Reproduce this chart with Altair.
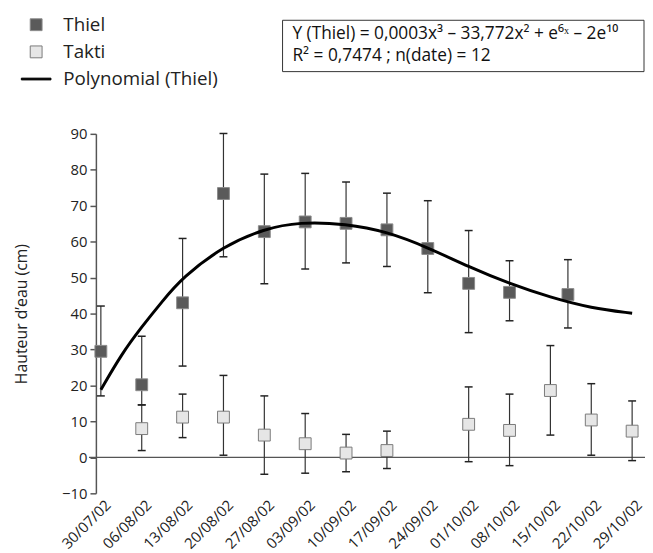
import json
import altair as alt
import pandas as pd

FONT = "Open Sans"

# ---- data ----
tick_labels = ["30/07/02", "06/08/02", "13/08/02", "20/08/02", "27/08/02", "03/09/02",
               "10/09/02", "17/09/02", "24/09/02", "01/10/02", "08/10/02", "15/10/02",
               "22/10/02", "29/10/02"]

thiel_dates = ["30/07/02", "06/08/02", "13/08/02", "20/08/02", "27/08/02", "03/09/02",
               "10/09/02", "17/09/02", "24/09/02", "01/10/02", "08/10/02", "18/10/02"]
thiel_mean = [29.5, 20.2, 43.0, 73.4, 62.8, 65.5, 65.1, 63.3, 58.1, 48.4, 45.9, 45.3]
thiel_hi = [42.1, 33.7, 60.9, 90.1, 78.8, 79.0, 76.6, 73.5, 71.4, 63.1, 54.7, 55.0]
thiel_lo = [17.1, 14.6, 25.4, 55.8, 48.3, 52.4, 54.1, 53.1, 45.8, 34.7, 38.0, 36.0]

takti_dates = ["06/08/02", "13/08/02", "20/08/02", "27/08/02", "03/09/02", "10/09/02",
               "17/09/02", "01/10/02", "08/10/02", "15/10/02", "22/10/02", "29/10/02"]
takti_mean = [8.0, 11.2, 11.2, 6.2, 3.8, 1.2, 1.9, 9.2, 7.5, 18.6, 10.4, 7.3]
takti_hi = [14.6, 17.6, 22.8, 17.1, 12.2, 6.4, 7.3, 19.6, 17.6, 31.1, 20.5, 15.7]
takti_lo = [1.9, 5.5, 0.6, -4.7, -4.4, -4.0, -3.1, -1.2, -2.3, 6.2, 0.6, -0.9]

# polynomial trend line (Thiel) (days after 30/07/02)
curve_days = [0, 3.6, 7, 10.4, 14, 21, 28, 34, 42, 49, 56, 63, 70, 77, 84, 91]
curve_vals = [18.8, 28.9, 36.3, 43.2, 50.1, 58.8, 63.6, 65.5, 65.0, 62.8, 58.4, 53.0,
              48.3, 44.5, 41.5, 40.1]

series_names = ["Thiel", "Takti", "Polynomial (Thiel)"]
eq_lines = ["Y (Thiel) = 0,0003x³ – 33,772x² + e⁶ˣ – 2e¹⁰",
            "R² = 0,7474 ; n(date) = 12"]
y_title = "Hauteur d’eau (cm)"

# ---- build tables ----
origin = pd.Timestamp("2002-07-30")


def to_days(lst):
    return [(pd.to_datetime(d, format="%d/%m/%y") - origin).days for d in lst]


tick_days = to_days(tick_labels)

df = pd.concat([
    pd.DataFrame({"day": to_days(thiel_dates), "mean": thiel_mean, "lo": thiel_lo,
                  "hi": thiel_hi, "series": "Thiel"}),
    pd.DataFrame({"day": to_days(takti_dates), "mean": takti_mean, "lo": takti_lo,
                  "hi": takti_hi, "series": "Takti"}),
], ignore_index=True)
curve_df = pd.DataFrame({"day": curve_days, "val": curve_vals})

xscale = alt.Scale(domain=[-0.85, 91.85], nice=False, zero=False)
yscale = alt.Scale(domain=[-10, 90], nice=False, zero=False)

label_expr = json.dumps(tick_labels) + "[round(datum.value / 7)]"
xaxis = alt.Axis(values=tick_days, labelExpr=label_expr, labelAngle=-45, domain=False,
                 ticks=False, grid=False, labelFontSize=15, labelFont=FONT,
                 labelColor="#222", labelPadding=4, labelOffset=2, title=None,
                 labelOverlap=False)
yaxis = alt.Axis(values=list(range(-10, 100, 10)), tickSize=6, tickColor="#555",
                 tickWidth=1.5, domainColor="#555", domainWidth=1.5, grid=False,
                 labelFontSize=15, labelFont=FONT, labelColor="#222", labelPadding=3,
                 title=y_title, titleFontSize=16, titleFontWeight="normal",
                 titleFont=FONT, titleColor="#222", titlePadding=33)


def X(field):
    return alt.X(field, type="quantitative", scale=xscale, axis=xaxis)


def Y(field):
    return alt.Y(field, type="quantitative", scale=yscale, axis=yaxis)


zero = alt.Chart(pd.DataFrame({"z": [0]})).mark_rule(color="#555", strokeWidth=1.5).encode(
    y=Y("z"), x=alt.value(-7), x2=alt.value(556))

bars = alt.Chart(df).mark_rule(color="#333", strokeWidth=1.2).encode(
    x=X("day"), y=Y("lo"), y2="hi")
cap_lo = alt.Chart(df).mark_tick(orient="horizontal", size=8, thickness=1.5,
                                 color="#222", opacity=1).encode(x=X("day"), y=Y("lo"))
cap_hi = alt.Chart(df).mark_tick(orient="horizontal", size=8, thickness=1.5,
                                 color="#222", opacity=1).encode(x=X("day"), y=Y("hi"))

line_path = "M-2.5,-0.15L2.5,-0.15L2.5,0.15L-2.5,0.15Z"
points = alt.Chart(df).mark_point(size=144, opacity=1, strokeWidth=1, filled=True).encode(
    x=X("day"), y=Y("mean"),
    fill=alt.Fill("series:N", title=None,
                  scale=alt.Scale(domain=series_names, range=["#5a5a5a", "#e6e6e6", "#000000"])),
    stroke=alt.Stroke("series:N", title=None,
                      scale=alt.Scale(domain=series_names, range=["#8a8a8a", "#7a7a7a", "#000000"])),
    shape=alt.Shape("series:N", title=None,
                    scale=alt.Scale(domain=series_names, range=["square", "square", line_path])),
)

curve = alt.Chart(curve_df).mark_line(color="black", strokeWidth=3, interpolate="basis").encode(
    x=X("day"), y=Y("val"))

one = pd.DataFrame({"a": [0]})
box = alt.Chart(one).mark_rect(fill="white", stroke="#333", strokeWidth=1).encode(
    x=alt.value(189), x2=alt.value(555), y=alt.value(-115), y2=alt.value(-63))
eq = alt.Chart(one).mark_text(text=eq_lines, align="left", baseline="alphabetic",
                              fontSize=17.5, font=FONT, color="#111", lineHeight=22.3).encode(
    x=alt.value(199), y=alt.value(-96))

chart = alt.layer(zero, bars, cap_lo, cap_hi, points, curve, box, eq).properties(
    width=548, height=364,
    autosize=alt.AutoSizeParams(type="none"),
    padding={"left": 89, "top": 124, "right": 8, "bottom": 57},
).configure_view(stroke=None).configure_legend(
    orient="none", legendX=-70, legendY=-120, labelFontSize=19, labelFont=FONT,
    labelColor="#222", symbolSize=144, symbolStrokeWidth=1, labelOffset=18,
    rowPadding=7.5, symbolOpacity=1,
)

chart.save("out.html", embed_options={"renderer": "svg", "actions": False})
